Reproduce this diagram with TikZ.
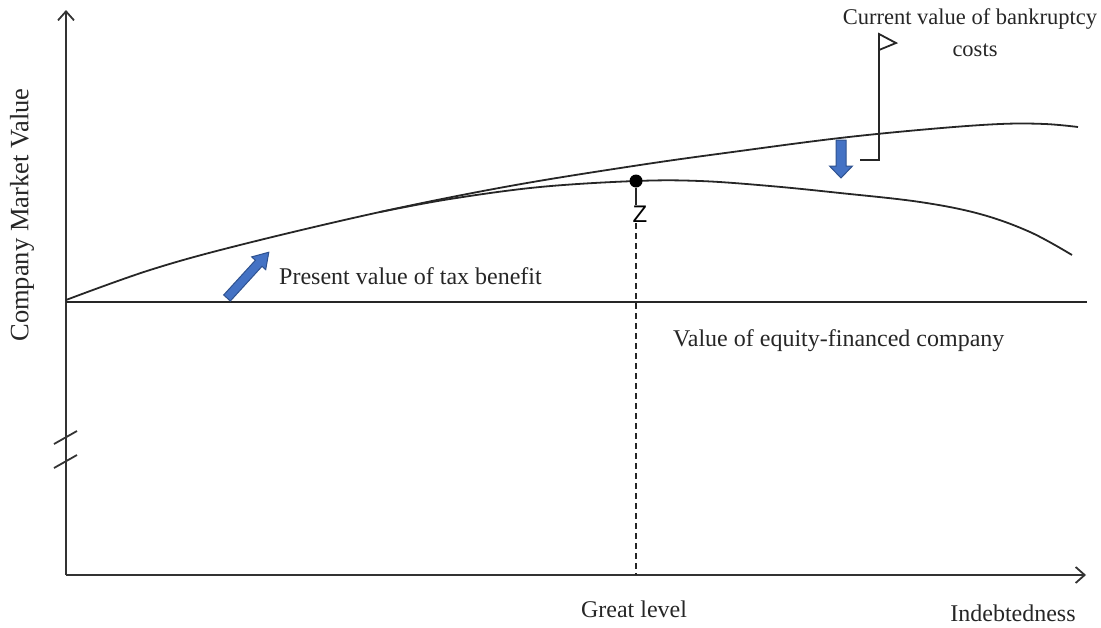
\documentclass[tikz,border=0pt]{standalone}
\usepackage{fontspec}
\setmainfont{Liberation Serif}
\newfontfamily\zfont{Liberation Sans}
\usetikzlibrary{arrows.meta}
\definecolor{arrowblue}{HTML}{4472C4}
\definecolor{arrowedge}{HTML}{2F528F}
\tikzset{
  axis/.style={line width=1.8pt, draw=black!80, -{Straight Barb[length=9pt,width=16pt,line width=1.8pt]}},
  curve/.style={line width=1.8pt, draw=black!85},
  lbl/.style={font=\fontsize{24}{28}\selectfont, inner sep=0pt, text=black!85},
  bluearrow/.style={fill=arrowblue, draw=arrowedge, line width=1pt, line join=miter}
}
\begin{document}
\begin{tikzpicture}[x=1pt,y=-1pt]
\useasboundingbox (0,0) rectangle (1101,627);
% axes
\coordinate (O) at (66,575);
\coordinate (ytop) at (66,10);
\coordinate (xend) at (1086,575);
\draw[axis] (O) -- (ytop);
\draw[axis] (O) -- (xend);
% axis break
\draw[line width=1.8pt, black!80] (54,444) -- (77,431) (54,468) -- (77,455);
% value of the all-equity firm
\coordinate (e0) at (66,302);
\coordinate (e1) at (1087,302);
\draw[curve] (e0) -- (e1);
% value with tax benefit only
\draw[curve] plot[smooth, tension=0.6] coordinates {(66,300) (150,270) (240,245) (380,212) (510,186) (640,165) (740,151) (840,138) (930,129) (1000,124) (1045,124) (1078,127)};
% value with tax benefit and bankruptcy costs
\draw[curve] plot[smooth, tension=0.6] coordinates {(380,212) (450,199) (540,187) (636,181) (700,181) (770,186) (840,193) (920,202) (980,214) (1030,232) (1072,255)};
% optimum point
\node[circle, fill=black, inner sep=0pt, minimum size=13pt] (Z) at (636,181) {};
\node[font=\zfont\fontsize{24}{26}\selectfont, inner sep=1pt] (Zl) at (640,214) {Z};
\coordinate (Zb) at (636,575);
\draw[line width=1.5pt, dash pattern=on 6pt off 4pt, black!85] (Zl.south -| Z) -- (Zb);
\draw[line width=1.5pt, black!85] (Z) -- (Zl.north -| Z);
% blue block arrows (tail at the scope origin, pointing along local x)
\coordinate (upt) at (227,298);
\coordinate (dnt) at (841,140);
\begin{scope}[shift={(upt)}, rotate=47.6]
  \def\L{62}\def\S{9}\def\H{15}\def\W{19}
  \draw[bluearrow] (0,-\S/2) -- (\L-\H,-\S/2) -- (\L-\H,-\W/2) -- (\L,0) -- (\L-\H,\W/2) -- (\L-\H,\S/2) -- (0,\S/2) -- cycle;
\end{scope}
\begin{scope}[shift={(dnt)}, rotate=-90]
  \def\L{38}\def\S{10}\def\H{12}\def\W{23}
  \draw[bluearrow] (0,-\S/2) -- (\L-\H,-\S/2) -- (\L-\H,-\W/2) -- (\L,0) -- (\L-\H,\W/2) -- (\L-\H,\S/2) -- (0,\S/2) -- cycle;
\end{scope}
% callout for bankruptcy costs
\coordinate (c0) at (860,160);
\coordinate (c1) at (879,160);
\coordinate (c2) at (879,34);
\coordinate (c3) at (896,43);
\coordinate (c4) at (879,50);
\draw[line width=1.8pt, black!85, line join=miter] (c0) -- (c1) -- (c2) -- (c3) -- (c4);
% labels
\node[lbl, anchor=west] (tax) at (279,276) {Present value of tax benefit};
\node[lbl, anchor=west] (eq) at (673,341) {Value of equity-financed company};
\node[lbl, font=\fontsize{22.5}{26}\selectfont] (bk1) at (970,19) {Current value of bankruptcy};
\node[lbl, font=\fontsize{22.5}{26}\selectfont] (bk2) at (975,50) {costs};
\node[lbl] (gl) at (634,609) {Great level};
\node[lbl] (ind) at (1013,613) {Indebtedness};
\node[lbl, font=\fontsize{26.5}{30}\selectfont, rotate=90] (cmv) at (22,215) {Company Market Value};
\end{tikzpicture}
\end{document}
